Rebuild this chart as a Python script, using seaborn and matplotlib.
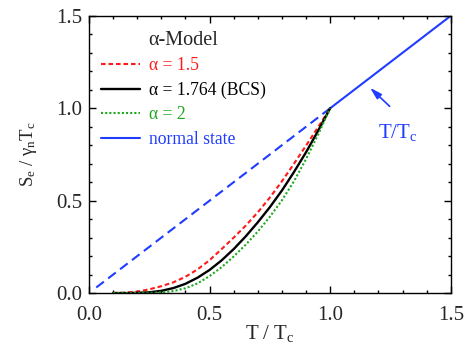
import matplotlib
matplotlib.use('Agg')
import matplotlib.pyplot as plt
from matplotlib.lines import Line2D
from matplotlib.ticker import MultipleLocator, FormatStrFormatter
import seaborn as sns

# Entropie electronique - modele alpha
t_red = [0.10, 0.15, 0.20, 0.25, 0.30, 0.35, 0.40, 0.45, 0.50, 0.55, 0.60, 0.65, 0.70, 0.75, 0.80, 0.85, 0.90, 0.95, 1.00]
s_red = [0.000, 0.002, 0.008, 0.020, 0.037, 0.058, 0.088, 0.128, 0.178, 0.238, 0.300, 0.365, 0.437, 0.517, 0.605, 0.700, 0.798, 0.898, 1.000]

t_bcs = [0.10, 0.15, 0.20, 0.25, 0.30, 0.35, 0.40, 0.45, 0.50, 0.55, 0.60, 0.65, 0.70, 0.75, 0.80, 0.85, 0.90, 0.95, 1.00]
s_bcs = [0.000, 0.000, 0.001, 0.004, 0.012, 0.027, 0.050, 0.083, 0.125, 0.177, 0.238, 0.307, 0.383, 0.465, 0.555, 0.655, 0.762, 0.878, 1.000]

t_green = [0.10, 0.15, 0.20, 0.25, 0.30, 0.35, 0.40, 0.45, 0.50, 0.55, 0.60, 0.65, 0.70, 0.75, 0.80, 0.85, 0.90, 0.95, 1.00]
s_green = [0.000, 0.000, 0.000, 0.001, 0.004, 0.011, 0.026, 0.052, 0.092, 0.140, 0.198, 0.262, 0.333, 0.413, 0.502, 0.605, 0.725, 0.858, 1.000]

t_norm_sc = [0.03, 1.00]
s_norm_sc = [0.03, 1.00]
t_norm = [1.00, 1.50]
s_norm = [1.00, 1.50]

labels = ['α = 1.5', 'α = 1.764 (BCS)', 'α = 2', 'normal state']
cores = ['#ff1a1a', '#000000', '#1fa81f', '#1f3cff']

sns.set_style('ticks')
plt.rcParams['font.family'] = ['Liberation Serif', 'DejaVu Serif']
plt.rcParams['mathtext.fontset'] = 'custom'
plt.rcParams['mathtext.rm'] = 'Liberation Serif'
plt.rcParams['mathtext.it'] = 'Liberation Serif:italic'

fig = plt.figure(figsize=(4.71, 3.6), dpi=100)
ax = fig.add_axes([0.189, 0.186, 0.768, 0.770])

sns.lineplot(x=t_norm_sc, y=s_norm_sc, ax=ax, color=cores[3], lw=1.5, linestyle=(0, (4.6, 2.6)))
sns.lineplot(x=t_norm, y=s_norm, ax=ax, color=cores[3], lw=1.5)
sns.lineplot(x=t_red, y=s_red, ax=ax, color=cores[0], lw=1.5, linestyle=(0, (2.2, 1.4)))
sns.lineplot(x=t_bcs, y=s_bcs, ax=ax, color=cores[1], lw=1.7)
sns.lineplot(x=t_green, y=s_green, ax=ax, color=cores[2], lw=1.5, linestyle=(0, (1.0, 1.0)))

ax.set_xlim(0, 1.5)
ax.set_ylim(0, 1.5)
ax.xaxis.set_major_locator(MultipleLocator(0.5))
ax.yaxis.set_major_locator(MultipleLocator(0.5))
ax.xaxis.set_minor_locator(MultipleLocator(0.1))
ax.yaxis.set_minor_locator(MultipleLocator(0.1))
ax.xaxis.set_major_formatter(FormatStrFormatter('%.1f'))
ax.yaxis.set_major_formatter(FormatStrFormatter('%.1f'))
ax.tick_params(which='both', direction='in', top=True, right=True, labelsize=15, width=1, color='black')
ax.tick_params(which='major', length=5)
ax.tick_params(which='minor', length=2.5)
ax.tick_params(axis='x', pad=9)
ax.tick_params(axis='y', pad=5)
for sp in ax.spines.values():
    sp.set_visible(True)
    sp.set_linewidth(1)
    sp.set_color('black')

ax.set_xlabel(r'$\mathrm{T\ /\ T_c}$', fontsize=15, labelpad=-1)
ax.set_ylabel(r'$\mathrm{S_e\ /\ γ_n T_c}$', fontsize=13.5, labelpad=12)

# Legenda
handles = [
    Line2D([], [], color=cores[0], lw=1.5, linestyle=(0, (2.2, 1.4))),
    Line2D([], [], color=cores[1], lw=1.7),
    Line2D([], [], color=cores[2], lw=1.5, linestyle=(0, (1.0, 1.0))),
    Line2D([], [], color=cores[3], lw=1.5),
]
leg = ax.legend(handles, labels, title='α-Model', frameon=False, loc='upper left',
                bbox_to_anchor=(0.0, 0.99), fontsize=12.7, title_fontsize=14.5,
                handlelength=2.2, handletextpad=0.5, labelspacing=0.42, borderaxespad=0.3)
for txt, c in zip(leg.get_texts(), cores):
    txt.set_color(c)

# Seta T/Tc
ax.annotate('', xy=(1.157, 1.121), xytext=(1.255, 1.0),
            arrowprops=dict(arrowstyle='-|>,head_length=0.7,head_width=0.2', color=cores[3], lw=1.2))
ax.text(1.2, 0.84, r'$\mathrm{T/T_c}$', color=cores[3], fontsize=15, ha='left', va='baseline')

plt.savefig('out.png', dpi=100)
